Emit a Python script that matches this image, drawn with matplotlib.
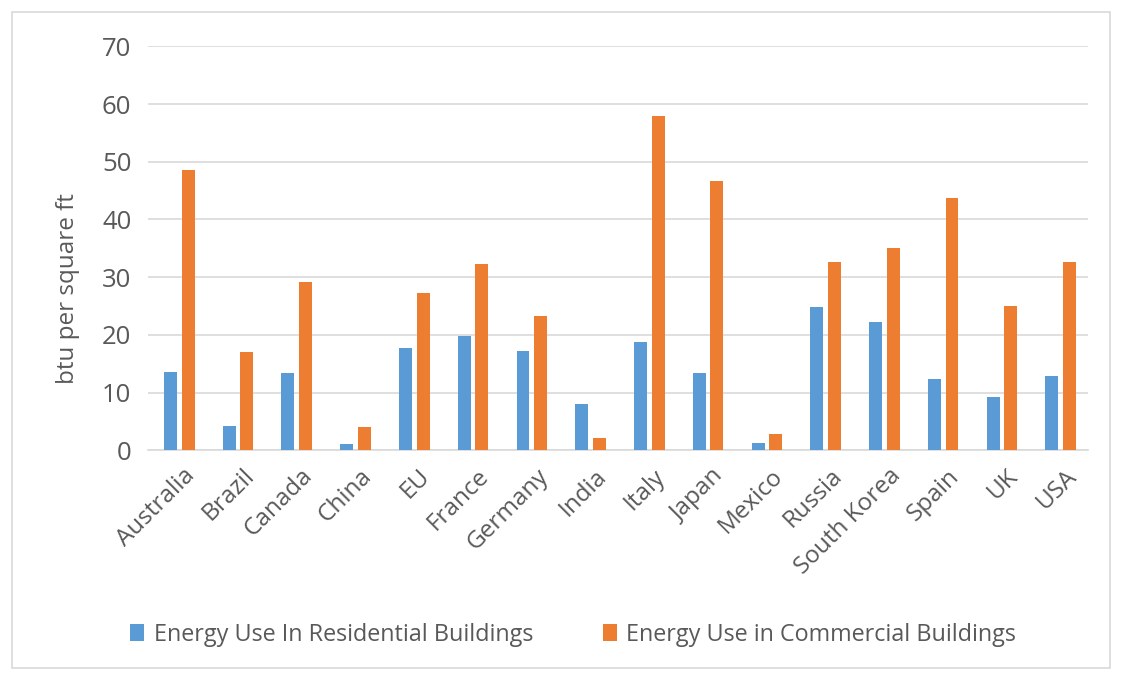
import matplotlib.pyplot as plt
import numpy as np
from matplotlib.patches import Rectangle

countries = ["Australia", "Brazil", "Canada", "China", "EU", "France", "Germany", "India",
             "Italy", "Japan", "Mexico", "Russia", "South Korea", "Spain", "UK", "USA"]
residential = [13.6, 4.2, 13.4, 1.0, 17.8, 19.8, 17.2, 8.0,
               18.8, 13.4, 1.3, 24.8, 22.2, 12.4, 9.3, 12.9]
commercial = [48.6, 17.0, 29.1, 4.1, 27.2, 32.2, 23.2, 2.1,
              57.9, 46.6, 2.8, 32.7, 35.0, 43.8, 25.0, 32.7]

plt.rcParams["font.family"] = ["Open Sans", "DejaVu Sans"]
text_color = "#595959"

fig = plt.figure(figsize=(11.22, 6.73), dpi=100)
fig.patches.append(Rectangle((0.011, 0.008), 0.978, 0.974, transform=fig.transFigure,
                             fill=False, edgecolor="#D9D9D9", linewidth=1.2))
ax = fig.add_axes([0.132, 0.331, 0.838, 0.600])

x = np.arange(len(countries))
width = 0.22
ax.bar(x - 0.12, residential, width, color="#5B9BD5", label="Energy Use In Residential Buildings", zorder=3)
ax.bar(x + 0.18, commercial, width, color="#ED7D31", label="Energy Use in Commercial Buildings", zorder=3)

ax.set_xlim(-0.5, len(countries) - 0.5)
ax.set_ylim(0, 70)
ax.set_yticks(range(0, 71, 10))
ax.yaxis.grid(True, color="#D9D9D9", linewidth=1.2, zorder=0)
for side in ["top", "right", "left"]:
    ax.spines[side].set_visible(False)
ax.spines["bottom"].set_color("#D9D9D9")
ax.spines["bottom"].set_linewidth(1.2)
ax.tick_params(axis="both", length=0, colors=text_color)
ax.tick_params(axis="y", pad=12, labelsize=18.5)
ax.tick_params(axis="x", pad=10, labelsize=17.5)
ax.set_xticks(x + 0.1)
ax.set_xticklabels(countries, rotation=45, ha="right", rotation_mode="anchor")
ax.set_ylabel("btu per square ft", fontsize=17.5, color=text_color)
# the label sits a bit below the middle of the axis in the original
ax.yaxis.set_label_coords(-0.072, 0.40)

fig.legend(loc="center", bbox_to_anchor=(0.511, 0.057), ncol=2, frameon=False,
           fontsize=16.8, labelcolor=text_color, handlelength=0.6, handleheight=0.75,
           handletextpad=0.4, columnspacing=3.0)

fig.savefig("out.png", dpi=100)
